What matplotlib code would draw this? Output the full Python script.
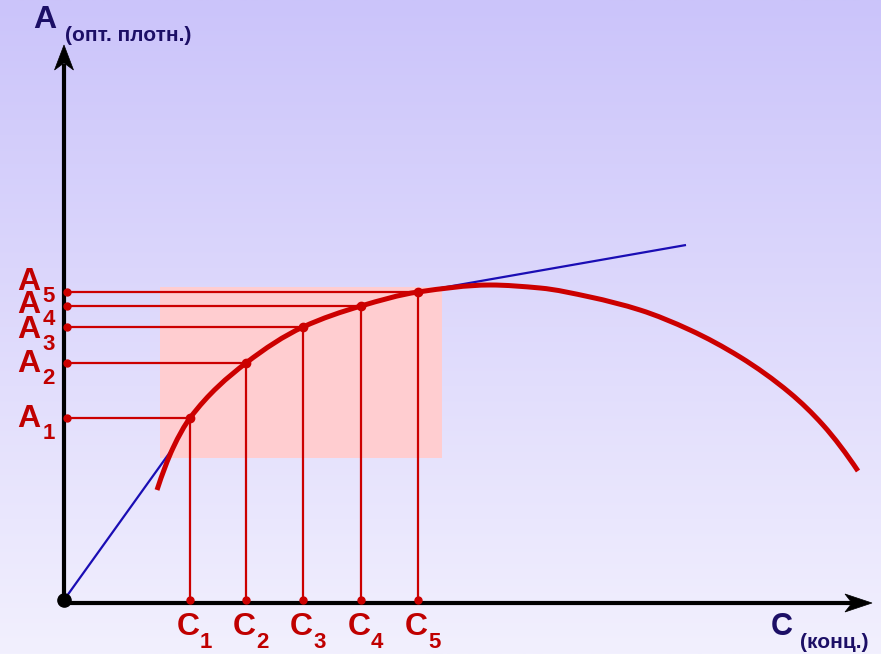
import numpy as np
import matplotlib
matplotlib.use("Agg")
import matplotlib.pyplot as plt
from matplotlib.patches import Rectangle, Polygon, PathPatch
from matplotlib.path import Path

# Calibration points: concentrations C1..C5 and their optical densities A1..A5
conc = [1.26, 1.82, 2.39, 2.97, 3.54]
absorb = [1.82, 2.37, 2.73, 2.94, 3.08]
point_names = ["1", "2", "3", "4", "5"]

# Measured calibration curve (bends over at high concentration)
curve_c = [0.93, 1.09, 1.26, 1.82, 2.39, 2.97, 3.54, 4.26, 4.76, 5.26, 5.76,
           6.26, 6.76, 7.26, 7.59, 7.94]
curve_a = [1.10, 1.52, 1.82, 2.37, 2.73, 2.94, 3.08, 3.15, 3.12, 3.03, 2.90,
           2.70, 2.43, 2.07, 1.75, 1.29]

# Linear (Beer–Lambert) reference line: from origin, along the working range, then extended
line_start = (0.0, 0.0)
line_end = (6.22, 3.55)

# Working range shown as a shaded box
range_c = (0.96, 3.78)
range_a = (1.42, 3.13)

RED = "#cc0000"
LABEL_RED = "#c00000"
NAVY = "#1c0f66"
BLUE = "#1a0db4"

fig = plt.figure(figsize=(8.81, 6.54), dpi=100)
ax = fig.add_axes([0, 0, 1, 1])
ax.set_xlim(-0.64, 8.17)
ax.set_ylim(-0.54, 6.00)
ax.axis("off")

# vertical background gradient
top = np.array([203, 196, 250]) / 255
bot = np.array([242, 240, 254]) / 255
t = np.linspace(0, 1, 256)[:, None]
grad = (top * (1 - t) + bot * t)[:, None, :]
ax.imshow(grad, extent=(-0.64, 8.17, -0.54, 6.00), aspect="auto", zorder=0)

# shaded working range
ax.add_patch(Rectangle((range_c[0], range_a[0]), range_c[1] - range_c[0],
                       range_a[1] - range_a[0], facecolor="#ffcdd0",
                       edgecolor="none", zorder=1))


def smooth_path(xs, ys):
    """Shape-preserving (PCHIP-style) cubic through the points, as Bezier segments."""
    x = np.asarray(xs, float)
    y = np.asarray(ys, float)
    h = np.diff(x)
    d = np.diff(y) / h
    n = len(x)
    m = np.zeros(n)
    for i in range(1, n - 1):
        if d[i - 1] * d[i] > 0:
            w1 = 2 * h[i] + h[i - 1]
            w2 = h[i] + 2 * h[i - 1]
            m[i] = (w1 + w2) / (w1 / d[i - 1] + w2 / d[i])
    if n > 2:
        m[0] = ((2 * h[0] + h[1]) * d[0] - h[0] * d[1]) / (h[0] + h[1])
        if m[0] * d[0] <= 0:
            m[0] = 0.0
        m[-1] = ((2 * h[-1] + h[-2]) * d[-1] - h[-1] * d[-2]) / (h[-1] + h[-2])
        if m[-1] * d[-1] <= 0:
            m[-1] = 0.0
    else:
        m[:] = d[0]
    verts = [(x[0], y[0])]
    codes = [Path.MOVETO]
    for i in range(n - 1):
        s = h[i] / 3
        verts += [(x[i] + s, y[i] + s * m[i]),
                  (x[i + 1] - s, y[i + 1] - s * m[i + 1]),
                  (x[i + 1], y[i + 1])]
        codes += [Path.CURVE4] * 3
    return Path(verts, codes)


# blue linear line: origin up to the curve, hidden under it through the
# working range, then continued as a straight tangent
k0 = 1
k1 = curve_c.index(conc[-1])
blue_c = [line_start[0]] + curve_c[k0:k1 + 1]
blue_a = [line_start[1]] + curve_a[k0:k1 + 1]
ax.plot(blue_c[:2], blue_a[:2], color=BLUE, lw=1.6, zorder=2,
        solid_capstyle="butt")
ax.add_patch(PathPatch(smooth_path(blue_c[1:], blue_a[1:]), facecolor="none",
                       edgecolor=BLUE, lw=1.6, zorder=2))
ax.plot([conc[-1], line_end[0]], [absorb[-1], line_end[1]], color=BLUE, lw=1.6,
        zorder=2, solid_capstyle="butt")

# projection lines to the axes
for c, a in zip(conc, absorb):
    ax.plot([0.02, c], [a, a], color=RED, lw=1.6, zorder=3)
    ax.plot([c, c], [a, 0.0], color=RED, lw=1.6, zorder=3)
    ax.plot([0.03], [a], "o", color=RED, ms=5, zorder=6)
    ax.plot([c], [0.0], "o", color=RED, ms=5, zorder=6)
    ax.plot([c], [a], "o", color=RED, ms=6, zorder=6)

# measured curve
ax.add_patch(PathPatch(smooth_path(curve_c, curve_a), facecolor="none",
                       edgecolor=RED, lw=3.6, zorder=4, capstyle="butt"))

# axes with arrowheads
ax.plot([0, 0], [-0.03, 5.36], color="black", lw=3.0, zorder=5,
        solid_capstyle="butt")
ax.add_patch(Polygon([(0, 5.55), (-0.095, 5.30), (0, 5.37), (0.095, 5.30)],
                     closed=True, facecolor="black", edgecolor="black",
                     lw=0.5, zorder=5))
ax.plot([-0.01, 7.88], [-0.03, -0.03], color="black", lw=3.0, zorder=5,
        solid_capstyle="butt")
ax.add_patch(Polygon([(8.08, -0.03), (7.81, 0.06), (7.88, -0.03), (7.81, -0.12)],
                     closed=True, facecolor="black", edgecolor="black",
                     lw=0.5, zorder=5))
ax.plot([0], [0.0], "o", color="black", ms=9.5, zorder=7)

MAIN = dict(family=["Liberation Sans", "DejaVu Sans"], weight="bold")
SUB = dict(family=["Liberation Sans Narrow", "Liberation Sans", "DejaVu Sans"],
           weight="bold")

# axis titles
ax.text(-0.31, 5.72, "A", color=NAVY, fontsize=23, ha="left", va="baseline", **MAIN)
ax.text(0.01, 5.59, "(опт. плотн.)", color=NAVY, fontsize=15, ha="left",
        va="baseline", **MAIN)
ax.text(7.07, -0.35, "C", color=NAVY, fontsize=22, ha="left", va="baseline", **MAIN)
ax.text(7.36, -0.48, "(конц.)", color=NAVY, fontsize=15, ha="left",
        va="baseline", **MAIN)

# A_i labels on the ordinate (upper ones lifted so they stack)
a_shift = [0.09, 0.09, 0.11, 0.07, -0.02]
for a, s, name in zip(absorb, a_shift, point_names):
    ax.text(-0.465, a - s, "A", color=LABEL_RED, fontsize=23, ha="left",
            va="baseline", **MAIN)
    ax.text(-0.215, a - s - 0.12, name, color=LABEL_RED, fontsize=16, ha="left",
            va="baseline", **SUB)

# C_i labels under the abscissa
for c, name in zip(conc, point_names):
    ax.text(c - 0.13, -0.35, "C", color=LABEL_RED, fontsize=23, ha="left",
            va="baseline", **MAIN)
    ax.text(c + 0.10, -0.48, name, color=LABEL_RED, fontsize=16, ha="left",
            va="baseline", **SUB)

fig.savefig("out.png", dpi=100)
